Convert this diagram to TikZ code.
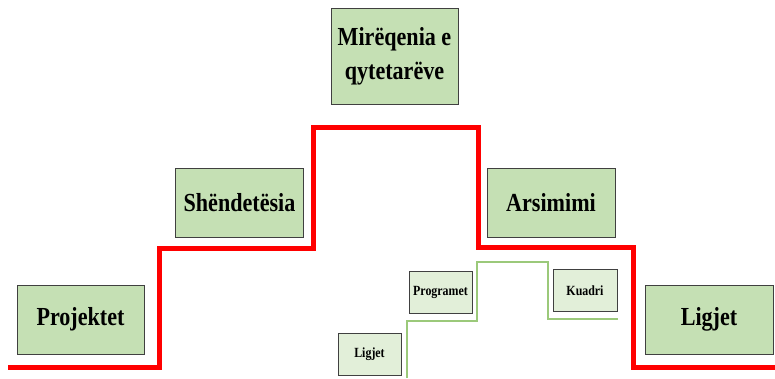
\documentclass[tikz,border=0pt]{standalone}
\usepackage{fontspec}
\setmainfont{Liberation Serif}
\newfontfamily\boxfont[FakeStretch=0.85]{Liberation Serif}
\usetikzlibrary{positioning}
\definecolor{stairred}{RGB}{255,0,0}
\definecolor{stairgreen}{RGB}{155,201,122}
\definecolor{boxgreen}{RGB}{197,224,180}
\definecolor{palegreen}{RGB}{226,239,217}
\definecolor{edgegrey}{RGB}{64,64,64}
\tikzset{
  bigstep/.style={draw=edgegrey,thick,fill=boxgreen,align=center,
    minimum width=127pt,minimum height=69pt,inner sep=2pt,
    font=\boxfont\fontsize{26}{34}\selectfont\bfseries},
  smallstep/.style={draw=edgegrey,thick,fill=palegreen,align=center,
    minimum width=63pt,minimum height=42pt,inner sep=1pt,
    font=\boxfont\fontsize{14}{17}\selectfont\bfseries},
  redstair/.style={draw=stairred,line width=5pt},
  greenstair/.style={draw=stairgreen,line width=1.2pt}
}

\begin{document}
\begin{tikzpicture}[x=1pt,y=-1pt]
  \useasboundingbox (0,0) rectangle (775,378);
  % big stair
  \draw[redstair] (8,367) -- (159,367) -- (159,248) -- (313,248) -- (313,127)
    -- (478,127) -- (478,247) -- (633,247) -- (633,367) -- (775,367);
  % small stair
  \draw[greenstair] (407,378) -- (407,321) -- (477,321) -- (477,262)
    -- (548,262) -- (548,319) -- (618,319);
  \node[bigstep] (projektet) at (80.5,319.5) {Projektet};
  \node[bigstep,minimum width=128pt] (shendetesia) at (239.5,202.5) {Shëndetësia};
  \node[bigstep,minimum height=96pt] (mireqenia) at (394.5,56) {Mirëqenia e\\qytetarëve};
  \node[bigstep,minimum width=128pt] (arsimimi) at (551,202.5) {Arsimimi};
  \node[bigstep,minimum width=128pt] (ligjet) at (709,319.5) {Ligjet};
  \node[smallstep] (ligjetsmall) at (369.5,354) {Ligjet};
  \node[smallstep] (programet) at (440.5,292) {Programet};
  \node[smallstep,minimum width=64pt] (kuadri) at (585,290.5) {Kuadri};
\end{tikzpicture}
\end{document}
